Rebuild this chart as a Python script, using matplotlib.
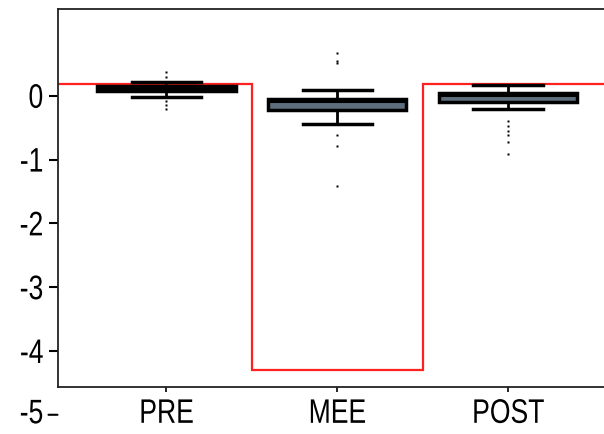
import matplotlib.pyplot as plt
import matplotlib.patheffects as pe
from matplotlib.transforms import Affine2D
import numpy as np

# group labels and box statistics
groups = ['PRE', 'MEE', 'POST']
medians = [0.11, -0.09, -0.01]
q1 = [0.07, -0.22, -0.10]
q3 = [0.16, -0.05, 0.04]
whis_lo = [-0.02, -0.44, -0.21]
whis_hi = [0.22, 0.09, 0.17]
fliers = [
    [0.37, 0.30, -0.08, -0.14, -0.20],
    [0.67, 0.55, 0.51, -0.62, -0.78, -1.42],
    [-0.39, -0.47, -0.55, -0.62, -0.73, -0.91],
]

# red step line (group means of the reference curve)
step_edges = [0.363, 1.5, 2.5, 3.637]
step_levels = [0.18, -4.30, 0.18]

yticks = [0, -1, -2, -3, -4]


class Squeeze(pe.AbstractPathEffect):
    # narrow the glyphs horizontally (reference uses a condensed font)
    def __init__(self, sx=0.8, anchor='center'):
        super().__init__()
        self.sx = sx
        self.anchor = anchor

    def draw_path(self, renderer, gc, tpath, affine, rgbFace=None):
        ext = tpath.get_extents()
        x0 = ext.x1 if self.anchor == 'right' else (ext.x0 + ext.x1) / 2
        squeeze = Affine2D().translate(-x0, 0).scale(self.sx, 1).translate(x0, 0)
        renderer.draw_path(gc, tpath, squeeze + affine, rgbFace)


plt.rcParams['font.family'] = ['Liberation Sans', 'DejaVu Sans']

fig = plt.figure(figsize=(6.04, 4.35), dpi=100)
ax = fig.add_axes([0.0952, 0.108, 0.926, 0.869])

stats = []
for i, g in enumerate(groups):
    stats.append(dict(label=g, med=medians[i], q1=q1[i], q3=q3[i],
                      whislo=whis_lo[i], whishi=whis_hi[i], fliers=fliers[i]))

ax.bxp(stats, positions=[1, 2, 3], widths=0.81, patch_artist=True,
       boxprops=dict(facecolor='#5f6e7d', edgecolor='black', linewidth=2.5),
       medianprops=dict(color='black', linewidth=1.5),
       whiskerprops=dict(color='black', linewidth=2),
       capprops=dict(color='black', linewidth=2.5),
       flierprops=dict(marker='s', markersize=1.8, markerfacecolor='black',
                       markeredgecolor='none'))

ax.stairs(step_levels, step_edges, baseline=None, color='#ff2020', linewidth=1.6, zorder=1)

ax.set_xlim(step_edges[0], step_edges[-1])
ax.set_ylim(-4.565, 1.36)
ax.set_yticks(yticks)
ax.set_yticklabels([str(t) for t in yticks])
ax.set_xticks([1, 2, 3])
ax.set_xticklabels(groups)

ax.tick_params(axis='y', direction='out', length=6.5, width=1.5, pad=3.5, labelsize=24.5)
ax.tick_params(axis='x', direction='out', length=3.5, width=1.2, pad=5, labelsize=24.5)
for side in ['left', 'bottom', 'top', 'right']:
    ax.spines[side].set_linewidth(1.3)
    ax.spines[side].set_color('#222222')

for lbl in ax.get_yticklabels():
    lbl.set_path_effects([Squeeze(0.78, 'right')])
for lbl in ax.get_xticklabels():
    lbl.set_path_effects([Squeeze(0.78, 'center')])

# the "-5" tick sits below the axis in the reference
ax.annotate('', xy=(0, -5), xycoords=ax.get_yaxis_transform(),
            xytext=(-6.5, 0), textcoords='offset points', annotation_clip=False,
            arrowprops=dict(arrowstyle='-', lw=1.5, color='black', shrinkA=0, shrinkB=0))
ax.annotate('-5', xy=(0, -5), xycoords=ax.get_yaxis_transform(),
            xytext=(-10, 0), textcoords='offset points', ha='right', va='center',
            fontsize=24.5, annotation_clip=False,
            path_effects=[Squeeze(0.78, 'right')])

fig.savefig('out.png', dpi=100)
